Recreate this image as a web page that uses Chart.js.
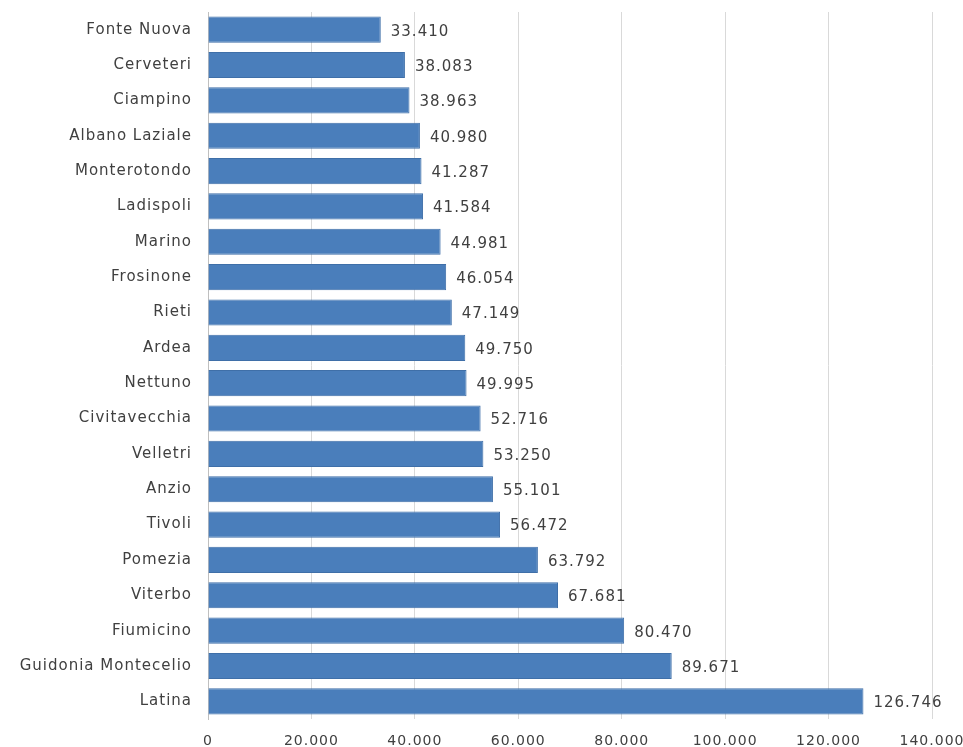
<!DOCTYPE html>
<html>
<head>
<meta charset="utf-8">
<script src="https://cdn.jsdelivr.net/npm/chart.js@4"></script>
<style>
html,body{margin:0;padding:0;background:#fff;}
#wrap{width:963px;height:747px;}
</style>
</head>
<body>
<div id="wrap"><canvas id="popChart"></canvas></div>
<script>
const comuni = ["Fonte Nuova","Cerveteri","Ciampino","Albano Laziale","Monterotondo","Ladispoli","Marino","Frosinone","Rieti","Ardea","Nettuno","Civitavecchia","Velletri","Anzio","Tivoli","Pomezia","Viterbo","Fiumicino","Guidonia Montecelio","Latina"];
const abitanti = [33410,38083,38963,40980,41287,41584,44981,46054,47149,49750,49995,52716,53250,55101,56472,63792,67681,80470,89671,126746];
const xMax = 140000;
const xStep = 20000;

const FONT = "'DejaVu Sans', sans-serif";
const SPACING = "1px";

function fmt(n){
  return String(Math.round(n)).replace(/\B(?=(\d{3})+(?!\d))/g, ".");
}

// the labels in the picture are wide, so spread the letters a bit
const wideText = {
  id:"wideText",
  beforeLayout(chart){ chart.ctx.letterSpacing = SPACING; },
  beforeDraw(chart){ chart.ctx.letterSpacing = SPACING; }
};

const valueLabels = {
  id:"valueLabels",
  afterDatasetsDraw(chart){
    const ctx = chart.ctx;
    const meta = chart.getDatasetMeta(0);
    ctx.save();
    ctx.letterSpacing = SPACING;
    ctx.font = "15px " + FONT;
    ctx.fillStyle = "#404040";
    ctx.textAlign = "left";
    ctx.textBaseline = "middle";
    meta.data.forEach((bar,i)=>{
      ctx.fillText(fmt(abitanti[i]), bar.x + 10, bar.y + 2);
    });
    ctx.restore();
  }
};

new Chart(document.getElementById("popChart"),{
type:"bar",
data:{
labels:comuni,
datasets:[{
data:abitanti,
backgroundColor:"#4a7ebb",
borderColor:"#3f6fa8",
borderWidth:1,
barPercentage:0.74,
categoryPercentage:1
}]
},
options:{
indexAxis:"y",
responsive:true,
maintainAspectRatio:false,
animation:false,
layout:{padding:{top:12,right:31,bottom:0,left:0}},
plugins:{legend:{display:false},tooltip:{enabled:false}},
scales:{
x:{
min:0,max:xMax,
ticks:{stepSize:xStep,callback:v=>fmt(v),color:"#404040",font:{family:FONT,size:14},padding:14,maxRotation:0},
grid:{color:"#d9d9d9",drawTicks:false},
border:{display:false},
afterFit(s){s.height=28;s.paddingLeft=0;s.paddingRight=0;}
},
y:{
ticks:{color:"#404040",font:{family:FONT,size:15},padding:16},
grid:{display:false,drawTicks:false},
border:{display:true,color:"#bfbfbf"},
afterFit(s){s.width=208;s.paddingTop=0;s.paddingBottom=0;}
}
}
},
plugins:[wideText,valueLabels]
});
</script>
</body>
</html>
